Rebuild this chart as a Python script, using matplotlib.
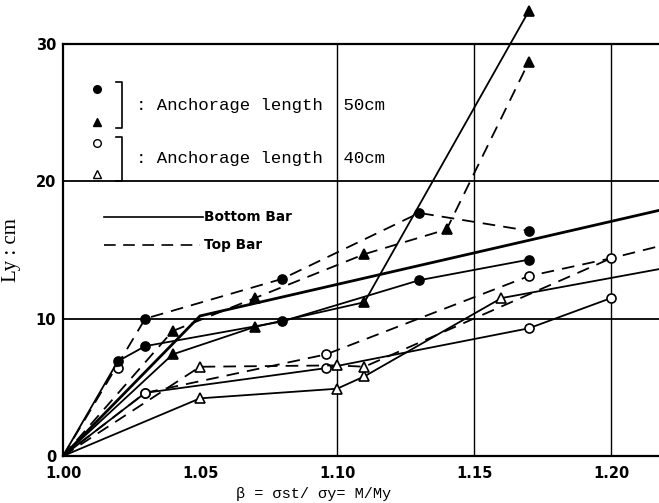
import matplotlib.pyplot as plt
import matplotlib.lines as mlines

# 読み取ったデータ (β, Ly[cm])
# 定着長 50cm
fc_bottom_x = [1.00, 1.02, 1.03, 1.08, 1.13, 1.17]
fc_bottom_y = [0.0, 6.9, 8.0, 9.8, 12.8, 14.3]
fc_top_x = [1.00, 1.03, 1.08, 1.13, 1.17]
fc_top_y = [0.0, 10.0, 12.9, 17.7, 16.4]
ft_bottom_x = [1.00, 1.04, 1.07, 1.11, 1.17]
ft_bottom_y = [0.0, 7.4, 9.4, 11.2, 32.4]
ft_top_x = [1.00, 1.04, 1.07, 1.11, 1.14, 1.17]
ft_top_y = [0.0, 9.1, 11.5, 14.7, 16.5, 28.7]

# 定着長 40cm
oc_bottom_x = [1.00, 1.03, 1.096, 1.17, 1.20]
oc_bottom_y = [0.0, 4.6, 6.4, 9.3, 11.5]
oc_top_x = [1.00, 1.03, 1.096, 1.17, 1.20, 1.22]
oc_top_y = [0.0, 4.6, 7.4, 13.1, 14.4, 15.4]
oc_extra_x = [1.02]
oc_extra_y = [6.4]
ot_bottom_x = [1.00, 1.05, 1.10, 1.11, 1.16, 1.22]
ot_bottom_y = [0.0, 4.2, 4.9, 5.8, 11.5, 13.7]
ot_top_x = [1.00, 1.05, 1.10, 1.11, 1.20]
ot_top_y = [0.0, 6.5, 6.6, 6.5, 14.4]

# 太線 (マーカーなし)
thick_x = [1.00, 1.05, 1.22]
thick_y = [0.0, 10.2, 18.0]

x_ticks = [1.00, 1.05, 1.10, 1.15, 1.20]
x_tick_labels = ['1.00', '1.05', '1.10', '1.15', '1.20']
y_ticks = [0, 10, 20, 30]
grid_x = [1.10, 1.15, 1.20]
grid_y = [10, 20]

fig = plt.figure(figsize=(6.59, 5.03), dpi=100)
ax = fig.add_axes([0.0956, 0.0934, 0.9044, 0.8191])

ax.set_xlim(1.00, 1.2175)
ax.set_ylim(0, 30)

for gx in grid_x:
    ax.axvline(gx, color='black', lw=1.0, zorder=1)
for gy in grid_y:
    ax.axhline(gy, color='black', lw=1.3, zorder=1)

dash = (0, (7, 4.5))
lw = 1.3
ms = 6.5

def draw(x, y, ls, marker, face, n_mark=None):
    n = len(x) if n_mark is None else n_mark
    ax.plot(x, y, color='black', lw=lw, linestyle=ls, marker=marker,
            markersize=ms, markerfacecolor=face, markeredgecolor='black',
            markeredgewidth=1.2, markevery=list(range(1, n)),
            clip_on=False, zorder=3)

draw(fc_bottom_x, fc_bottom_y, '-', 'o', 'black')
draw(fc_top_x, fc_top_y, dash, 'o', 'black')
draw(ft_bottom_x, ft_bottom_y, '-', '^', 'black')
draw(ft_top_x, ft_top_y, dash, '^', 'black')
draw(oc_bottom_x, oc_bottom_y, '-', 'o', 'white')
draw(oc_top_x, oc_top_y, dash, 'o', 'white', n_mark=len(oc_top_x) - 1)
draw(ot_bottom_x, ot_bottom_y, '-', '^', 'white', n_mark=len(ot_bottom_x) - 1)
draw(ot_top_x, ot_top_y, dash, '^', 'white', n_mark=len(ot_top_x) - 1)
ax.plot(oc_extra_x, oc_extra_y, 'o', color='black', markersize=ms,
        markerfacecolor='white', markeredgewidth=1.2, zorder=2)
ax.plot(thick_x, thick_y, color='black', lw=2.0, zorder=3)

# 凡例 (手描き風)
mono = 'Liberation Mono'
lms = 5.5
ax.plot([1.0124], [26.7], 'o', color='black', markersize=lms)
ax.plot([1.0124], [24.3], '^', color='black', markersize=lms)
ax.plot([1.0124], [22.8], 'o', color='black', markersize=lms, markerfacecolor='white')
ax.plot([1.0124], [20.5], '^', color='black', markersize=lms, markerfacecolor='white')
for top, bot in [(27.2, 23.9), (23.2, 20.0)]:
    ax.plot([1.0195, 1.0215, 1.0215, 1.0195], [top, top, bot, bot],
            color='black', lw=1.2)
ax.text(1.0265, 25.5, ': Anchorage length  50cm', fontsize=12.5,
        family=mono, va='center', ha='left')
ax.text(1.0265, 21.7, ': Anchorage length  40cm', fontsize=12.5,
        family=mono, va='center', ha='left')
ax.add_line(mlines.Line2D([1.0150, 1.0510], [17.4, 17.4], color='black', lw=1.2))
ax.add_line(mlines.Line2D([1.0150, 1.0500], [15.4, 15.4], color='black', lw=1.2,
                          linestyle=dash))
ax.text(1.0515, 17.4, 'Bottom Bar', fontsize=9.8, fontweight='bold',
        va='center', ha='left')
ax.text(1.0515, 15.4, 'Top Bar', fontsize=9.8, fontweight='bold',
        va='center', ha='left')

ax.spines['right'].set_visible(False)
for s in ['left', 'bottom', 'top']:
    ax.spines[s].set_linewidth(1.6)

ax.set_xticks(x_ticks)
ax.set_xticklabels(x_tick_labels)
ax.set_yticks(y_ticks)
ax.tick_params(length=0, labelsize=10.5)
ax.tick_params(axis='x', pad=7)
ax.tick_params(axis='y', pad=5)
for lab in ax.get_xticklabels() + ax.get_yticklabels():
    lab.set_fontweight('bold')

ax.set_xlabel('β = σst/ σy= M/My', fontsize=11, family=mono)
ax.xaxis.set_label_coords(0.42, -0.075)
ax.set_ylabel('Ly : cm', fontsize=15, family='Liberation Serif')
ax.yaxis.set_label_coords(-0.07, 0.5)

fig.savefig('out.png', dpi=100)
